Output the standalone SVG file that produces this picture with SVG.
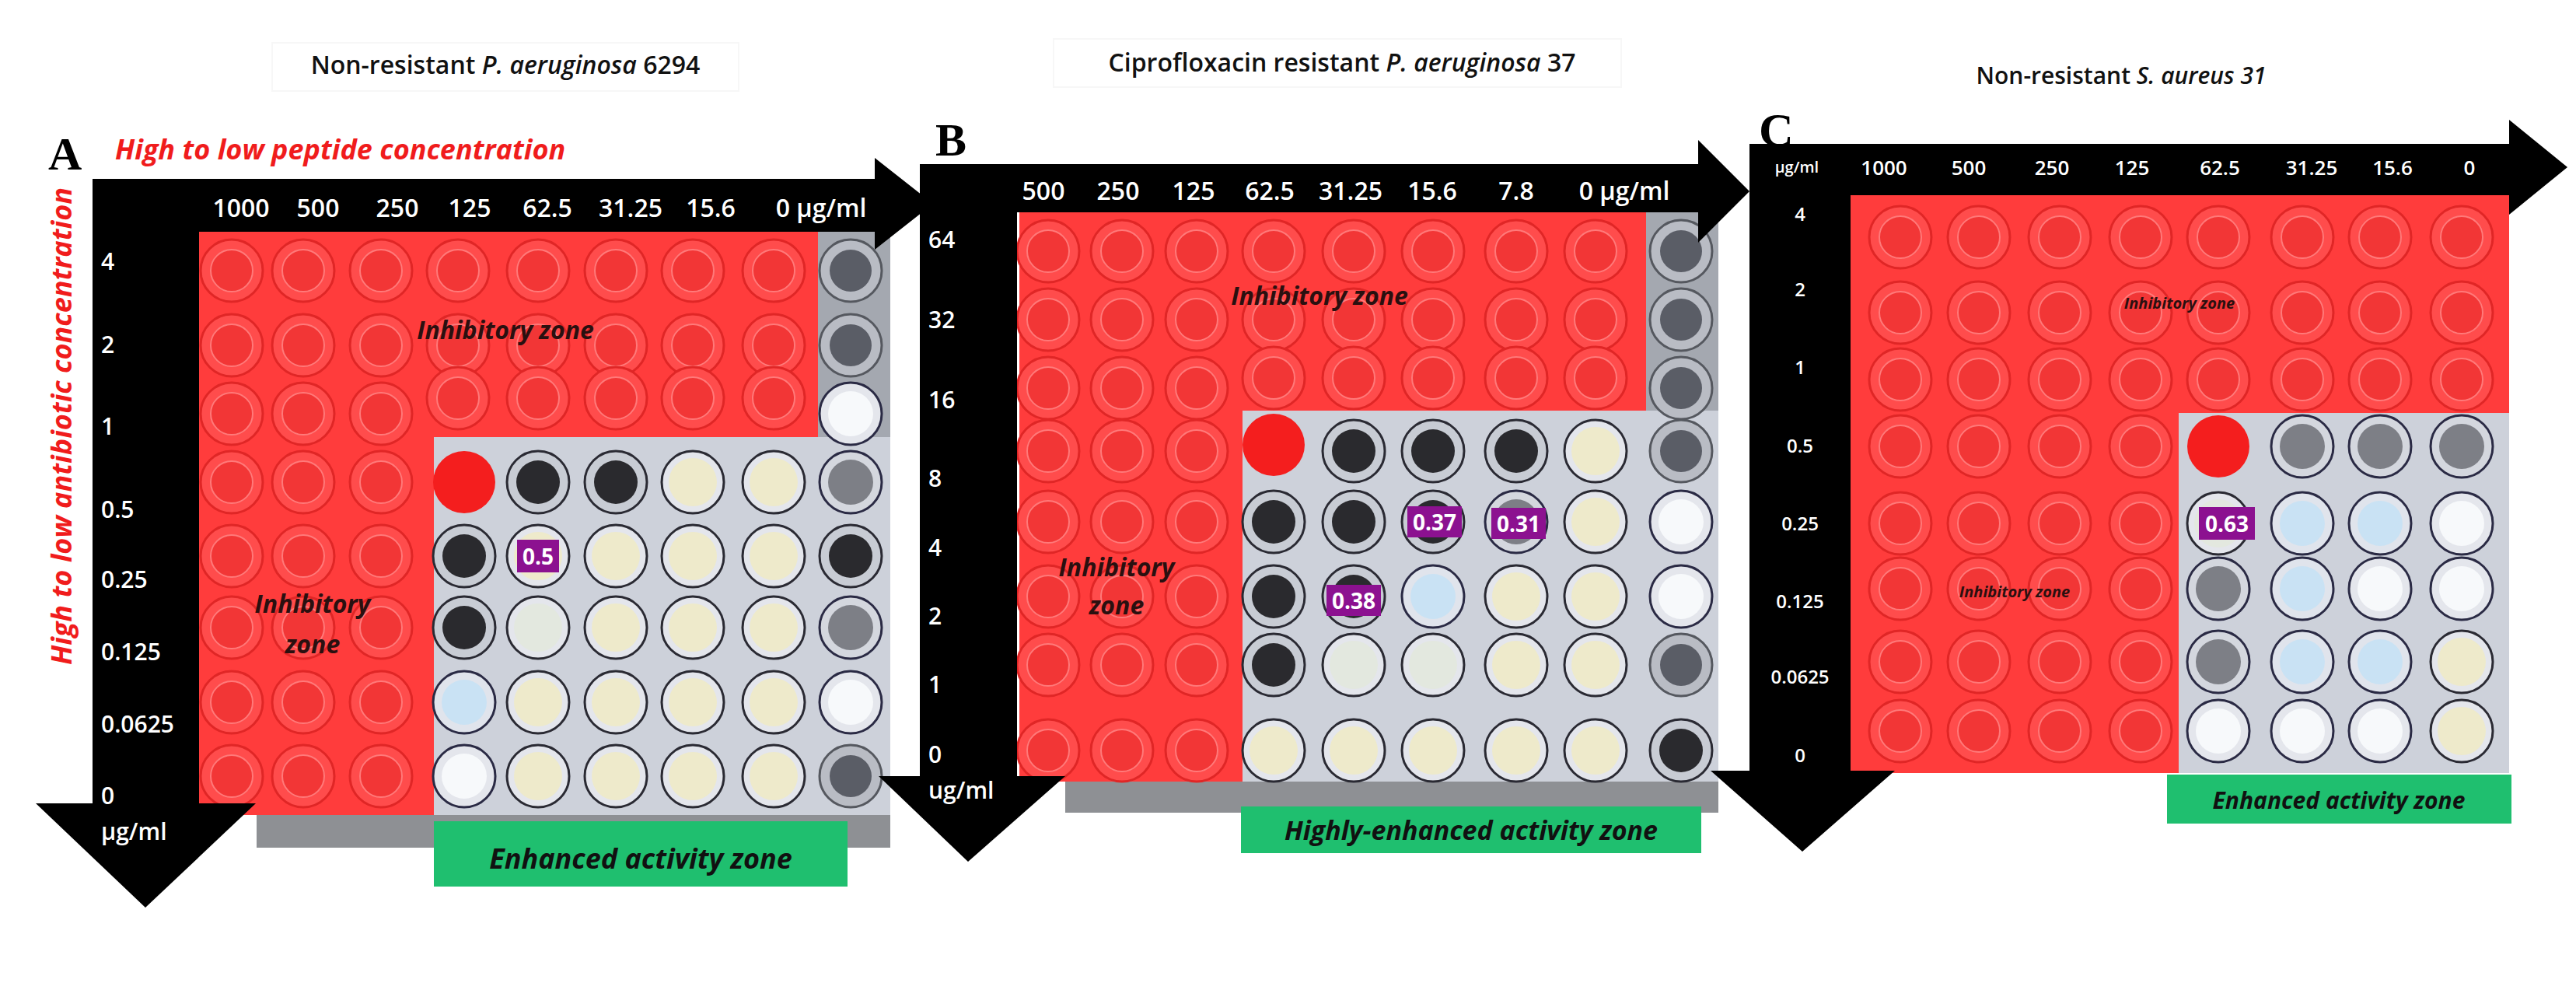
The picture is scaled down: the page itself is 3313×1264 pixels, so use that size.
<svg xmlns="http://www.w3.org/2000/svg" xmlns:xlink="http://www.w3.org/1999/xlink" width="3313" height="1264" viewBox="0 0 3313 1264">
<style>
.t{font-family:"Open Sans","Liberation Sans",sans-serif;font-weight:600;fill:#111}
.ax{font-family:"Open Sans","Liberation Sans",sans-serif;font-weight:600;fill:#fff}
.zone{font-family:"Open Sans","Liberation Sans",sans-serif;font-weight:700;font-style:italic;fill:#2a1010}
.grn{font-family:"Open Sans","Liberation Sans",sans-serif;font-weight:700;font-style:italic;fill:#111}
.lbl{font-family:"Open Sans","Liberation Sans",sans-serif;font-weight:700;fill:#fff}
.let{font-family:"Liberation Serif",serif;font-weight:700;fill:#000}
.bar{fill:#000}
.red{fill:#ff3c3c}
.plate{fill:#cdd1da}
.edge{fill:#a4a8b0}
.gbox{fill:#1fbf6f}
.pb{fill:#8c1190}
</style>
<defs>
<g id="rw"><circle r="40" fill="#ff4c4c" stroke="#e02626" stroke-width="3"/><circle r="27" fill="#f23636" stroke="#ff7a7a" stroke-width="2"/></g>
<g id="xw"><circle r="40" fill="#f41e1e"/></g>
<g id="yw"><circle r="40" fill="#e4e6ec" stroke="#2a2a33" stroke-width="3"/><circle r="31" fill="#eeeacb"/></g>
<g id="pw"><circle r="40" fill="#e4e6ec" stroke="#2a2a33" stroke-width="3"/><circle r="31" fill="#e3e8df"/></g>
<g id="dw"><circle r="40" fill="#c8ccd4" stroke="#2a2a33" stroke-width="3"/><circle r="28" fill="#2a2a2e"/></g>
<g id="gw"><circle r="40" fill="#d4d7de" stroke="#2a2a44" stroke-width="3"/><circle r="29" fill="#7d7f86"/></g>
<g id="bw"><circle r="40" fill="#e0e4ec" stroke="#2a2a44" stroke-width="3"/><circle r="29" fill="#c9e2f4"/></g>
<g id="ww"><circle r="40" fill="#e4e6ec" stroke="#2a2a44" stroke-width="3"/><circle r="29" fill="#f7f9fb"/></g>
<g id="ew"><circle r="40" fill="#b9bcc4" stroke="#55585f" stroke-width="3"/><circle r="27" fill="#5a5d66"/></g>
</defs>

<g id="titles">
<rect x="350" y="55" width="600" height="62" fill="none" stroke="#f7f7f7" stroke-width="2"/>
<text class="t" x="650" y="95" font-size="32" text-anchor="middle">Non-resistant <tspan font-style="italic">P. aeruginosa</tspan> 6294</text>
<rect x="1355" y="50" width="730" height="62" fill="none" stroke="#f7f7f7" stroke-width="2"/>
<text class="t" x="1726" y="92" font-size="32" text-anchor="middle">Ciprofloxacin resistant <tspan font-style="italic">P. aeruginosa</tspan> 37</text>
<text class="t" x="2728" y="108" font-size="30" text-anchor="middle">Non-resistant <tspan font-style="italic">S. aureus 31</tspan></text>
</g>

<!-- Panel A -->
<g id="panelA">
<rect class="edge" x="1052" y="298" width="93" height="750"/>
<rect class="plate" x="558" y="562" width="587" height="486"/>
<rect x="330" y="1048" width="815" height="42" fill="#8e9094"/>
<path class="red" d="M256,298 H1052 V562 H558 V1048 H256 Z"/>
<g id="wellsA">
<use href="#rw" x="298" y="348"/><use href="#rw" x="390" y="348"/><use href="#rw" x="490" y="348"/><use href="#rw" x="589" y="348"/><use href="#rw" x="692" y="348"/><use href="#rw" x="792" y="348"/><use href="#rw" x="891" y="348"/><use href="#rw" x="995" y="348"/>
<use href="#rw" x="298" y="444"/><use href="#rw" x="390" y="444"/><use href="#rw" x="490" y="444"/><use href="#rw" x="589" y="444"/><use href="#rw" x="692" y="444"/><use href="#rw" x="792" y="444"/><use href="#rw" x="891" y="444"/><use href="#rw" x="995" y="444"/>
<use href="#rw" x="298" y="532"/><use href="#rw" x="390" y="532"/><use href="#rw" x="490" y="532"/><use href="#rw" x="589" y="512"/><use href="#rw" x="692" y="512"/><use href="#rw" x="792" y="512"/><use href="#rw" x="891" y="512"/><use href="#rw" x="995" y="512"/>
<use href="#rw" x="298" y="620"/><use href="#rw" x="390" y="620"/><use href="#rw" x="490" y="620"/>
<use href="#rw" x="298" y="715"/><use href="#rw" x="390" y="715"/><use href="#rw" x="490" y="715"/>
<use href="#rw" x="298" y="807"/><use href="#rw" x="390" y="807"/><use href="#rw" x="490" y="807"/>
<use href="#rw" x="298" y="903"/><use href="#rw" x="390" y="903"/><use href="#rw" x="490" y="903"/>
<use href="#rw" x="298" y="998"/><use href="#rw" x="390" y="998"/><use href="#rw" x="490" y="998"/>
<use href="#ew" x="1094" y="348"/><use href="#ew" x="1094" y="444"/><use href="#ww" x="1094" y="532"/><use href="#gw" x="1094" y="620"/><use href="#dw" x="1094" y="715"/><use href="#gw" x="1094" y="807"/><use href="#ww" x="1094" y="903"/><use href="#ew" x="1094" y="998"/>
<use href="#xw" x="597" y="620"/><use href="#dw" x="692" y="620"/><use href="#dw" x="792" y="620"/><use href="#yw" x="891" y="620"/><use href="#yw" x="995" y="620"/>
<use href="#dw" x="597" y="715"/><use href="#yw" x="692" y="715"/><use href="#yw" x="792" y="715"/><use href="#yw" x="891" y="715"/><use href="#yw" x="995" y="715"/>
<use href="#dw" x="597" y="807"/><use href="#pw" x="692" y="807"/><use href="#yw" x="792" y="807"/><use href="#yw" x="891" y="807"/><use href="#yw" x="995" y="807"/>
<use href="#bw" x="597" y="903"/><use href="#yw" x="692" y="903"/><use href="#yw" x="792" y="903"/><use href="#yw" x="891" y="903"/><use href="#yw" x="995" y="903"/>
<use href="#ww" x="597" y="998"/><use href="#yw" x="692" y="998"/><use href="#yw" x="792" y="998"/><use href="#yw" x="891" y="998"/><use href="#yw" x="995" y="998"/>
</g>
<rect class="pb" x="665" y="694" width="54" height="42"/>
<text class="lbl" x="692" y="726" font-size="28" text-anchor="middle">0.5</text>
<path class="bar" d="M119,230 H1125 V203 L1200,262 L1125,321 V298 H256 V1033 H329 L187,1167 L46,1033 H119 Z"/>
<g font-size="32">
<text class="ax" x="310" y="279" text-anchor="middle">1000</text><text class="ax" x="409" y="279" text-anchor="middle">500</text><text class="ax" x="511" y="279" text-anchor="middle">250</text><text class="ax" x="604" y="279" text-anchor="middle">125</text><text class="ax" x="704" y="279" text-anchor="middle">62.5</text><text class="ax" x="811" y="279" text-anchor="middle">31.25</text><text class="ax" x="914" y="279" text-anchor="middle">15.6</text><text class="ax" x="1056" y="279" text-anchor="middle">0  µg/ml</text>
</g>
<g font-size="30">
<text class="ax" x="130" y="347">4</text><text class="ax" x="130" y="454">2</text><text class="ax" x="130" y="559">1</text><text class="ax" x="130" y="666">0.5</text><text class="ax" x="130" y="756">0.25</text><text class="ax" x="130" y="849">0.125</text><text class="ax" x="130" y="942">0.0625</text><text class="ax" x="130" y="1034">0</text><text class="ax" x="130" y="1080">µg/ml</text>
</g>
<text class="zone" x="650" y="436" font-size="32" text-anchor="middle">Inhibitory zone</text>
<text class="zone" x="402" y="788" font-size="32" text-anchor="middle">Inhibitory</text>
<text class="zone" x="402" y="840" font-size="32" text-anchor="middle">zone</text>
<rect class="gbox" x="558" y="1056" width="532" height="84"/>
<text class="grn" x="824" y="1117" font-size="36" text-anchor="middle">Enhanced activity zone</text>
<text class="let" x="62" y="218" font-size="60">A</text>
<text x="148" y="205" font-size="36" font-family="Open Sans, Liberation Sans, sans-serif" font-weight="700" font-style="italic" fill="#f01c1c">High to low peptide concentration</text>
<text x="0" y="0" font-size="36" font-family="Open Sans, Liberation Sans, sans-serif" font-weight="700" font-style="italic" fill="#f01c1c" text-anchor="middle" transform="translate(92,548) rotate(-90)">High to low antibiotic concentration</text>
</g>

<!-- Panel B -->
<g id="panelB">
<rect class="edge" x="2117" y="273" width="93" height="739"/>
<rect class="plate" x="1598" y="528" width="612" height="484"/>
<rect x="1370" y="1005" width="840" height="40" fill="#8e9094"/>
<path class="red" d="M1311,273 H2117 V528 H1598 V1005 H1311 Z"/>
<g id="wellsB">
<use href="#rw" x="1348" y="323"/><use href="#rw" x="1443" y="323"/><use href="#rw" x="1539" y="323"/><use href="#rw" x="1638" y="323"/><use href="#rw" x="1741" y="323"/><use href="#rw" x="1843" y="323"/><use href="#rw" x="1950" y="323"/><use href="#rw" x="2052" y="323"/>
<use href="#rw" x="1348" y="411"/><use href="#rw" x="1443" y="411"/><use href="#rw" x="1539" y="411"/><use href="#rw" x="1638" y="411"/><use href="#rw" x="1741" y="411"/><use href="#rw" x="1843" y="411"/><use href="#rw" x="1950" y="411"/><use href="#rw" x="2052" y="411"/>
<use href="#rw" x="1348" y="499"/><use href="#rw" x="1443" y="499"/><use href="#rw" x="1539" y="499"/><use href="#rw" x="1638" y="486"/><use href="#rw" x="1741" y="486"/><use href="#rw" x="1843" y="486"/><use href="#rw" x="1950" y="486"/><use href="#rw" x="2052" y="486"/>
<use href="#rw" x="1348" y="580"/><use href="#rw" x="1443" y="580"/><use href="#rw" x="1539" y="580"/>
<use href="#rw" x="1348" y="671"/><use href="#rw" x="1443" y="671"/><use href="#rw" x="1539" y="671"/>
<use href="#rw" x="1348" y="767"/><use href="#rw" x="1443" y="767"/><use href="#rw" x="1539" y="767"/>
<use href="#rw" x="1348" y="855"/><use href="#rw" x="1443" y="855"/><use href="#rw" x="1539" y="855"/>
<use href="#rw" x="1348" y="965"/><use href="#rw" x="1443" y="965"/><use href="#rw" x="1539" y="965"/>
<use href="#ew" x="2162" y="323"/><use href="#ew" x="2162" y="411"/><use href="#ew" x="2162" y="499"/><use href="#ew" x="2162" y="580"/><use href="#ww" x="2162" y="671"/><use href="#ww" x="2162" y="767"/><use href="#ew" x="2162" y="855"/><use href="#dw" x="2162" y="965"/>
<use href="#xw" x="1638" y="572"/><use href="#dw" x="1741" y="580"/><use href="#dw" x="1843" y="580"/><use href="#dw" x="1950" y="580"/><use href="#yw" x="2052" y="580"/>
<use href="#dw" x="1638" y="671"/><use href="#dw" x="1741" y="671"/><use href="#dw" x="1843" y="671"/><use href="#gw" x="1950" y="671"/><use href="#yw" x="2052" y="671"/>
<use href="#dw" x="1638" y="767"/><use href="#dw" x="1741" y="767"/><use href="#bw" x="1843" y="767"/><use href="#yw" x="1950" y="767"/><use href="#yw" x="2052" y="767"/>
<use href="#dw" x="1638" y="855"/><use href="#pw" x="1741" y="855"/><use href="#pw" x="1843" y="855"/><use href="#yw" x="1950" y="855"/><use href="#yw" x="2052" y="855"/>
<use href="#yw" x="1638" y="965"/><use href="#yw" x="1741" y="965"/><use href="#yw" x="1843" y="965"/><use href="#yw" x="1950" y="965"/><use href="#yw" x="2052" y="965"/>
</g>
<rect class="pb" x="1810" y="651" width="70" height="40"/><text class="lbl" x="1845" y="682" font-size="28" text-anchor="middle">0.37</text>
<rect class="pb" x="1918" y="653" width="70" height="40"/><text class="lbl" x="1953" y="684" font-size="28" text-anchor="middle">0.31</text>
<rect class="pb" x="1706" y="752" width="70" height="40"/><text class="lbl" x="1741" y="783" font-size="28" text-anchor="middle">0.38</text>
<path class="bar" d="M1183,211 H2184 V180 L2250,246 L2184,312 V273 H1308 V998 H1370 L1245,1108 L1130,998 H1183 Z"/>
<g font-size="32">
<text class="ax" x="1342" y="257" text-anchor="middle">500</text><text class="ax" x="1438" y="257" text-anchor="middle">250</text><text class="ax" x="1535" y="257" text-anchor="middle">125</text><text class="ax" x="1633" y="257" text-anchor="middle">62.5</text><text class="ax" x="1737" y="257" text-anchor="middle">31.25</text><text class="ax" x="1842" y="257" text-anchor="middle">15.6</text><text class="ax" x="1950" y="257" text-anchor="middle">7.8</text><text class="ax" x="2089" y="257" text-anchor="middle">0  µg/ml</text>
</g>
<g font-size="30">
<text class="ax" x="1194" y="319">64</text><text class="ax" x="1194" y="422">32</text><text class="ax" x="1194" y="525">16</text><text class="ax" x="1194" y="626">8</text><text class="ax" x="1194" y="715">4</text><text class="ax" x="1194" y="803">2</text><text class="ax" x="1194" y="891">1</text><text class="ax" x="1194" y="981">0</text><text class="ax" x="1194" y="1027">ug/ml</text>
</g>
<text class="zone" x="1697" y="392" font-size="32" text-anchor="middle">Inhibitory zone</text>
<text class="zone" x="1436" y="741" font-size="32" text-anchor="middle">Inhibitory</text>
<text class="zone" x="1436" y="790" font-size="32" text-anchor="middle">zone</text>
<rect class="gbox" x="1596" y="1037" width="592" height="60"/>
<text class="grn" x="1892" y="1080" font-size="34" text-anchor="middle">Highly-enhanced activity zone</text>
<text class="let" x="1203" y="200" font-size="60">B</text>
</g>

<!-- Panel C -->
<g id="panelC">
<rect class="plate" x="2802" y="531" width="425" height="463"/>
<path class="red" d="M2380,251 H3227 V531 H2802 V994 H2380 Z"/>
<g id="wellsC">
<use href="#rw" x="2444" y="305"/><use href="#rw" x="2545" y="305"/><use href="#rw" x="2649" y="305"/><use href="#rw" x="2753" y="305"/><use href="#rw" x="2853" y="305"/><use href="#rw" x="2961" y="305"/><use href="#rw" x="3061" y="305"/><use href="#rw" x="3166" y="305"/>
<use href="#rw" x="2444" y="402"/><use href="#rw" x="2545" y="402"/><use href="#rw" x="2649" y="402"/><use href="#rw" x="2753" y="402"/><use href="#rw" x="2853" y="402"/><use href="#rw" x="2961" y="402"/><use href="#rw" x="3061" y="402"/><use href="#rw" x="3166" y="402"/>
<use href="#rw" x="2444" y="488"/><use href="#rw" x="2545" y="488"/><use href="#rw" x="2649" y="488"/><use href="#rw" x="2753" y="488"/><use href="#rw" x="2853" y="488"/><use href="#rw" x="2961" y="488"/><use href="#rw" x="3061" y="488"/><use href="#rw" x="3166" y="488"/>
<use href="#rw" x="2444" y="574"/><use href="#rw" x="2545" y="574"/><use href="#rw" x="2649" y="574"/><use href="#rw" x="2753" y="574"/>
<use href="#rw" x="2444" y="673"/><use href="#rw" x="2545" y="673"/><use href="#rw" x="2649" y="673"/><use href="#rw" x="2753" y="673"/>
<use href="#rw" x="2444" y="757"/><use href="#rw" x="2545" y="757"/><use href="#rw" x="2649" y="757"/><use href="#rw" x="2753" y="757"/>
<use href="#rw" x="2444" y="851"/><use href="#rw" x="2545" y="851"/><use href="#rw" x="2649" y="851"/><use href="#rw" x="2753" y="851"/>
<use href="#rw" x="2444" y="940"/><use href="#rw" x="2545" y="940"/><use href="#rw" x="2649" y="940"/><use href="#rw" x="2753" y="940"/>
<use href="#xw" x="2853" y="574"/><use href="#gw" x="2961" y="574"/><use href="#gw" x="3061" y="574"/><use href="#gw" x="3166" y="574"/>
<use href="#pw" x="2853" y="673"/><use href="#bw" x="2961" y="673"/><use href="#bw" x="3061" y="673"/><use href="#ww" x="3166" y="673"/>
<use href="#gw" x="2853" y="757"/><use href="#bw" x="2961" y="757"/><use href="#ww" x="3061" y="757"/><use href="#ww" x="3166" y="757"/>
<use href="#gw" x="2853" y="851"/><use href="#bw" x="2961" y="851"/><use href="#bw" x="3061" y="851"/><use href="#yw" x="3166" y="851"/>
<use href="#ww" x="2853" y="940"/><use href="#ww" x="2961" y="940"/><use href="#ww" x="3061" y="940"/><use href="#yw" x="3166" y="940"/>
</g>
<rect class="pb" x="2828" y="652" width="72" height="42"/><text class="lbl" x="2864" y="684" font-size="28" text-anchor="middle">0.63</text>
<path class="bar" d="M2250,185 H3227 V154 L3302,215 L3227,276 V251 H2380 V991 H2437 L2318,1095 L2200,991 H2250 Z"/>
<g font-size="26">
<text class="ax" x="2311" y="222" font-size="20" text-anchor="middle">µg/ml</text>
<text class="ax" x="2423" y="225" text-anchor="middle">1000</text><text class="ax" x="2532" y="225" text-anchor="middle">500</text><text class="ax" x="2639" y="225" text-anchor="middle">250</text><text class="ax" x="2742" y="225" text-anchor="middle">125</text><text class="ax" x="2855" y="225" text-anchor="middle">62.5</text><text class="ax" x="2973" y="225" text-anchor="middle">31.25</text><text class="ax" x="3077" y="225" text-anchor="middle">15.6</text><text class="ax" x="3176" y="225" text-anchor="middle">0</text>
</g>
<g font-size="24" text-anchor="middle">
<text class="ax" x="2315" y="284">4</text><text class="ax" x="2315" y="381">2</text><text class="ax" x="2315" y="481">1</text><text class="ax" x="2315" y="582">0.5</text><text class="ax" x="2315" y="682">0.25</text><text class="ax" x="2315" y="782">0.125</text><text class="ax" x="2315" y="879">0.0625</text><text class="ax" x="2315" y="980">0</text>
</g>
<text class="zone" x="2803" y="397" font-size="20" text-anchor="middle">Inhibitory zone</text>
<text class="zone" x="2591" y="768" font-size="20" text-anchor="middle">Inhibitory zone</text>
<rect class="gbox" x="2787" y="996" width="443" height="63"/>
<text class="grn" x="3008" y="1040" font-size="30" text-anchor="middle">Enhanced activity zone</text>
<text class="let" x="2262" y="188" font-size="62">C</text>
</g>
</svg>
